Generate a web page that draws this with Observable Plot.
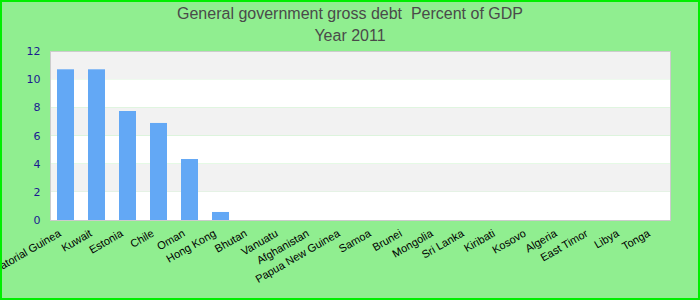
<!DOCTYPE html>
<html>
<head>
<meta charset="utf-8">
<script src="https://cdn.jsdelivr.net/npm/d3@7"></script>
<script src="https://cdn.jsdelivr.net/npm/@observablehq/plot@0.6"></script>
<style>
  body { margin: 0; }
  #wrap { position: relative; width: 700px; height: 300px; background: #90ee90; overflow: hidden; font-family: "Liberation Sans", Arial, sans-serif; }
  #border { position: absolute; inset: 0; border: 2px solid #00ee00; pointer-events: none; box-sizing: border-box; }
  .t1 { position: absolute; left: 0; width: 700px; top: 3px; text-align: center; font-size: 16px; line-height: 22px; color: #4a4a4a; }
  .t2 { position: absolute; left: 0; width: 700px; top: 25px; text-align: center; font-size: 16px; line-height: 22px; color: #4a4a4a; }
  #chart { position: absolute; left: 0; top: 46px; }
</style>
</head>
<body>
<div id="wrap">
  <div class="t1">General government gross debt&nbsp; Percent of GDP</div>
  <div class="t2">Year 2011</div>
  <div id="chart"></div>
  <div id="border"></div>
</div>
<script>
const countries = ["Equatorial Guinea", "Kuwait", "Estonia", "Chile", "Oman", "Hong Kong", "Bhutan", "Vanuatu", "Afghanistan", "Papua New Guinea", "Samoa", "Brunei", "Mongolia", "Sri Lanka", "Kiribati", "Kosovo", "Algeria", "East Timor", "Libya", "Tonga"];
const debt = [10.7, 10.7, 7.74, 6.89, 4.33, 0.57, 0, 0, 0, 0, 0, 0, 0, 0, 0, 0, 0, 0, 0, 0];
const yTicks = [0, 2, 4, 6, 8, 10, 12];
const bandStarts = [0, 2, 4, 6, 8, 10];

const data = countries.map((c, i) => ({country: c, value: debt[i]}));
const bands = bandStarts.map((b, i) => ({y1: b, y2: b + 2, fill: i % 2 === 0 ? "#ffffff" : "#f2f2f2"}));

const chart = Plot.plot({
  width: 700,
  height: 254,
  marginLeft: 50,
  marginRight: 30,
  marginTop: 5,
  marginBottom: 80,
  style: {background: "transparent", fontFamily: "Liberation Sans, Arial, sans-serif", fontSize: "11px", overflow: "visible"},
  x: {domain: countries, paddingInner: 0.45, paddingOuter: 0.225, label: null},
  y: {domain: [0, 12], label: null},
  marks: [
    Plot.rectY(bands, {y1: "y1", y2: "y2", fill: "fill"}),
    Plot.frame({stroke: "#cccccc", fill: "none"}),
    Plot.barY(data, {x: "country", y: "value", fill: "#63a8f5"}),
    Plot.axisY({ticks: yTicks, tickSize: 0, tickPadding: 10, color: "#1a1a90", fontSize: 11, fontFamily: "DejaVu Sans, sans-serif"}),
    Plot.axisX({tickSize: 0, tickPadding: 12, tickRotate: -30, dx: -6, color: "#000", fontSize: 11})
  ]
});
document.getElementById("chart").appendChild(chart);
</script>
</body>
</html>
